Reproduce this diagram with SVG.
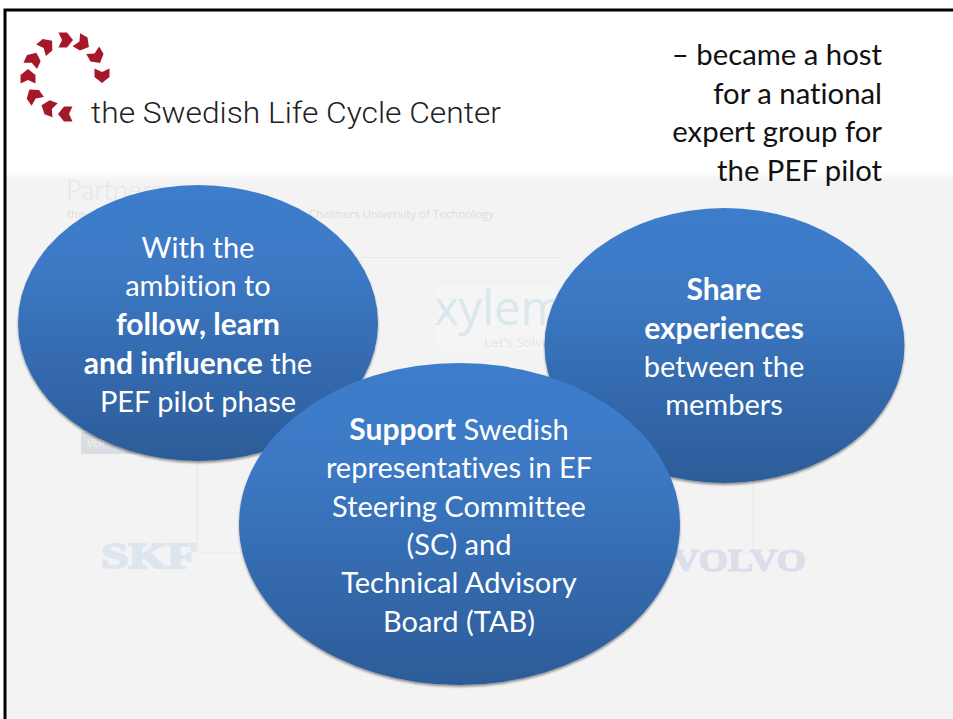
<svg xmlns="http://www.w3.org/2000/svg" width="953" height="719" viewBox="0 0 953 719">
<style>
.t{font-family:Lato,"Noto Sans",sans-serif;font-size:29px;fill:#fff;text-anchor:middle;font-variant-ligatures:none}
.b{font-weight:700;font-size:30px}
.h{font-family:Lato,"Noto Sans",sans-serif;font-size:29.3px;fill:#111;text-anchor:end;font-variant-ligatures:none}
.e{fill:url(#g);filter:url(#s)}
.c{fill:#a5182a}
</style>
<defs>
<linearGradient id="g" x1="0" y1="0" x2="0" y2="1"><stop offset="0" stop-color="#3d7dcb"/><stop offset="0.3" stop-color="#3c79c5"/><stop offset="1" stop-color="#2c5c98"/></linearGradient>
<linearGradient id="bg" x1="0" y1="0" x2="0" y2="1"><stop offset="0" stop-color="#fff"/><stop offset="1" stop-color="#f3f3f3"/></linearGradient>
<filter id="s" x="-5%" y="-5%" width="110%" height="110%"><feDropShadow dx="0" dy="2" stdDeviation="1.3" flood-color="#000" flood-opacity="0.4"/></filter>
<path id="ch" d="M-7.500-6.500 0-3 7.500-6.500 7.500 2 0 8-7.500 2Z"/>
</defs>
<rect width="953" height="719" fill="#fff"/>
<rect x="6" y="172" width="947" height="8" fill="url(#bg)"/>
<rect x="6" y="180" width="947" height="539" fill="#f3f3f3"/>
<path d="M5 719V10H953" fill="none" stroke="#000" stroke-width="3"/>
<g id="logo">
<g class="c">
<use href="#ch" transform="translate(102 75)"/>
<use href="#ch" transform="translate(96 56) rotate(-30)"/>
<use href="#ch" transform="translate(82 43) rotate(-60)"/>
<use href="#ch" transform="translate(65 40) rotate(-90)"/>
<use href="#ch" transform="translate(46 46) rotate(-130)"/>
<use href="#ch" transform="translate(33 60) rotate(-155)"/>
<use href="#ch" transform="translate(28 77) rotate(180)"/>
<use href="#ch" transform="translate(34 96) rotate(145)"/>
<use href="#ch" transform="translate(49 108) rotate(110)"/>
<use href="#ch" transform="translate(66 114) rotate(90)"/>
</g>
<text x="91" y="123" font-family="Roboto,Liberation Sans,Arial,sans-serif" font-weight="300" font-size="29.500" fill="#222" textLength="410" lengthAdjust="spacingAndGlyphs">the Swedish Life Cycle Center</text>
</g>
<g id="heading">
<text class="h" x="882" y="65">– became a host</text>
<text class="h" x="882" y="104">for a national</text>
<text class="h" x="882" y="142">expert group for</text>
<text class="h" x="882" y="181">the PEF pilot</text>
</g>
<g id="backdrop">
<text x="66" y="200" font-family="Lato,sans-serif" font-weight="300" font-size="27" fill="#e6e6e6">Partners</text>
<text x="494" y="218" text-anchor="end" font-family="Open Sans,sans-serif" font-size="11.500" fill="#dcdcdc">Chalmers University of Technology</text>
<text x="67" y="218" font-family="Open Sans,sans-serif" font-size="11.500" fill="#dcdcdc">the</text>
<path d="M350 257.500H560M197.500 460V553H240M753 480V553H690" fill="none" stroke="#e8e9eb" stroke-width="1.200"/>
<rect x="436" y="285" width="120" height="65" fill="#f5f5f5"/>
<text x="434" y="325" font-family="Open Sans,sans-serif" font-size="47" fill="#dae8ed">xylem</text>
<text x="484" y="347" font-family="Open Sans,sans-serif" font-size="13.500" fill="#dfe6e8">Let's Solve</text>
<rect x="81" y="432" width="60" height="22" fill="#dadee3"/>
<text x="87" y="447" font-family="Open Sans,sans-serif" font-size="10" fill="#f2f2f2">VER</text>
<text x="101" y="568" font-family="Liberation Serif,serif" font-weight="700" font-size="35" fill="#dde6ee" stroke="#dde6ee" stroke-width="1.800" textLength="96" lengthAdjust="spacingAndGlyphs">SKF</text>
<text x="672" y="571" font-family="Liberation Serif,serif" font-weight="700" font-size="31" fill="#dcdeeb" stroke="#dcdeeb" stroke-width="1.200" textLength="134" lengthAdjust="spacingAndGlyphs">VOLVO</text>
</g>
<g id="node-left">
<ellipse class="e" cx="198" cy="323" rx="180" ry="138"/>
<text class="t" x="198" y="257.500">With the</text>
<text class="t" x="198" y="296">ambition to</text>
<text class="t b" x="198" y="334.500">follow, learn</text>
<text class="t" x="198" y="373.500"><tspan class="b">and influence</tspan> the</text>
<text class="t" x="198" y="411.500">PEF pilot phase</text>
</g>
<g id="node-right">
<ellipse class="e" cx="724.500" cy="345.500" rx="180" ry="137.500"/>
<text class="t b" x="724" y="299.500">Share</text>
<text class="t b" x="724" y="338.500">experiences</text>
<text class="t" x="724" y="376.500">between the</text>
<text class="t" x="724" y="414.500">members</text>
</g>
<g id="node-center">
<ellipse class="e" cx="459.500" cy="524" rx="220.500" ry="161"/>
<text class="t" x="459" y="439.500"><tspan class="b">Support</tspan> Swedish</text>
<text class="t" x="459" y="478">representatives in EF</text>
<text class="t" x="459" y="516.500">Steering Committee</text>
<text class="t" x="459" y="554.500">(SC) and</text>
<text class="t" x="459" y="593">Technical Advisory</text>
<text class="t" x="459" y="631.500">Board (TAB)</text>
</g>
</svg>
